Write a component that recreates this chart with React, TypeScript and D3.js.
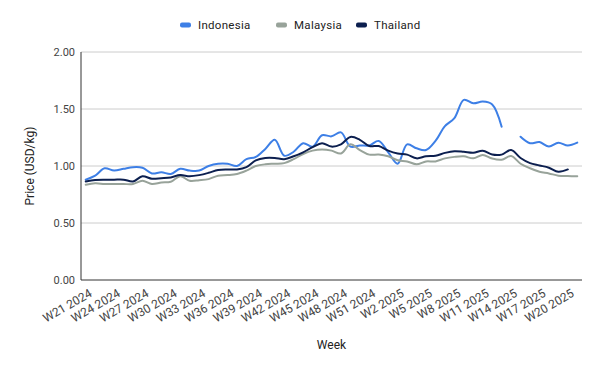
import * as d3 from 'd3';

const weeks = [
  'W21 2024', 'W22 2024', 'W23 2024', 'W24 2024', 'W25 2024', 'W26 2024', 'W27 2024', 'W28 2024',
  'W29 2024', 'W30 2024', 'W31 2024', 'W32 2024', 'W33 2024', 'W34 2024', 'W35 2024', 'W36 2024',
  'W37 2024', 'W38 2024', 'W39 2024', 'W40 2024', 'W41 2024', 'W42 2024', 'W43 2024', 'W44 2024',
  'W45 2024', 'W46 2024', 'W47 2024', 'W48 2024', 'W49 2024', 'W50 2024', 'W51 2024', 'W52 2024',
  'W1 2025', 'W2 2025', 'W3 2025', 'W4 2025', 'W5 2025', 'W6 2025', 'W7 2025', 'W8 2025',
  'W9 2025', 'W10 2025', 'W11 2025', 'W12 2025', 'W13 2025', 'W14 2025', 'W15 2025', 'W16 2025',
  'W17 2025', 'W18 2025', 'W19 2025', 'W20 2025', 'W21 2025',
];

const indonesia: (number | null)[] = [
  0.88, 0.915, 0.98, 0.96, 0.975, 0.99, 0.985, 0.935, 0.945, 0.93,
  0.975, 0.96, 0.96, 1.0, 1.02, 1.02, 1.0, 1.06, 1.08, 1.15,
  1.23, 1.09, 1.125, 1.2, 1.17, 1.27, 1.26, 1.295, 1.17, 1.18,
  1.18, 1.22, 1.12, 1.02, 1.19, 1.155, 1.14, 1.22, 1.35, 1.42,
  1.58, 1.55, 1.565, 1.54, 1.345, null, 1.257, 1.2, 1.21, 1.17,
  1.205, 1.18, 1.205,
];

const malaysia: (number | null)[] = [
  0.835, 0.848, 0.842, 0.842, 0.842, 0.842, 0.87, 0.842, 0.855, 0.862,
  0.91, 0.87, 0.875, 0.885, 0.915, 0.92, 0.93, 0.96, 1.0, 1.015,
  1.02, 1.025, 1.06, 1.105, 1.135, 1.145, 1.135, 1.11, 1.19, 1.14,
  1.1, 1.1, 1.085, 1.05, 1.04, 1.015, 1.04, 1.04, 1.067, 1.08,
  1.085, 1.067, 1.097, 1.065, 1.055, 1.088, 1.02, 0.98, 0.95, 0.935,
  0.915, 0.912, 0.91,
];

const thailand: (number | null)[] = [
  0.865, 0.877, 0.88, 0.88, 0.88, 0.865, 0.91, 0.888, 0.893, 0.9,
  0.92, 0.91, 0.92, 0.94, 0.965, 0.97, 0.97, 0.99, 1.05, 1.07,
  1.07, 1.06, 1.085, 1.12, 1.165, 1.2, 1.17, 1.19, 1.255, 1.23,
  1.175, 1.175, 1.135, 1.11, 1.1, 1.067, 1.085, 1.09, 1.115, 1.13,
  1.125, 1.117, 1.134, 1.1, 1.1, 1.14, 1.07, 1.025, 1.005, 0.985,
  0.95, 0.97, null,
];

const series = [
  { name: 'Indonesia', values: indonesia, color: '#3d7fe6' },
  { name: 'Malaysia', values: malaysia, color: '#98a39a' },
  { name: 'Thailand', values: thailand, color: '#0c1f4f' },
];

const yTicks = [0, 0.5, 1, 1.5, 2];
const xTickLabels = weeks.filter((_, i) => i % 3 === 0);

const W = 600;
const H = 371;
const margin = { top: 52, right: 18, bottom: 91, left: 81 };
const font = 'Roboto, Arial, sans-serif';

export default function App() {
  const x = d3.scalePoint<string>()
    .domain(weeks)
    .range([margin.left, W - margin.right])
    .padding(0.5);
  const y = d3.scaleLinear().domain([0, 2]).range([H - margin.bottom, margin.top]);

  const line = d3.line<number | null>()
    .defined(d => d != null)
    .x((_, i) => x(weeks[i])!)
    .y(d => y(d as number))
    .curve(d3.curveCatmullRom.alpha(0.5));

  const legendX = [180, 276, 356];

  return (
    <svg width={W} height={H} style={{ position: 'absolute', left: 0, top: 0, fontFamily: font }}>
      <rect width={W} height={H} fill="#fff" />

      {/* legend */}
      {series.map((s, i) => (
        <g key={s.name} transform={`translate(${legendX[i]},25)`}>
          <rect x={0} y={-2.5} width={11} height={5} rx={2} fill={s.color} />
          <text x={18} dy="0.35em" fontSize={11.5} fill="#222" letterSpacing={0.3}>{s.name}</text>
        </g>
      ))}

      {/* grid */}
      {yTicks.map(t => (
        <g key={t}>
          {t > 0 && (
            <line x1={margin.left} x2={W - margin.right} y1={y(t)} y2={y(t)} stroke="#cccccc" strokeWidth={1} />
          )}
          <text x={margin.left - 6} y={y(t)} dy="0.35em" textAnchor="end" fontSize={11} fill="#444">
            {t.toFixed(2)}
          </text>
        </g>
      ))}

      {/* series */}
      {series.map(s => (
        <path key={s.name} d={line(s.values) || ''} fill="none" stroke={s.color} strokeWidth={2}
          strokeLinejoin="round" strokeLinecap="round" />
      ))}

      {/* axes */}
      <line x1={margin.left} x2={margin.left} y1={margin.top} y2={y(0)} stroke="#333" strokeWidth={1} />
      <line x1={margin.left} x2={W - margin.right} y1={y(0)} y2={y(0)} stroke="#333" strokeWidth={1} />

      {xTickLabels.map(w => (
        <text key={w} transform={`translate(${x(w)! + 5},${y(0) + 12}) rotate(-30)`}
          textAnchor="end" dy="0.35em" fontSize={12} fill="#444">
          {w}
        </text>
      ))}

      <text x={(margin.left + W - margin.right) / 2} y={345} dy="0.35em" textAnchor="middle" fontSize={12} fill="#222">
        Week
      </text>
      <text transform={`translate(30,${(margin.top + y(0)) / 2}) rotate(-90)`} dy="0.35em" textAnchor="middle"
        fontSize={12} fill="#222">
        Price (USD/kg)
      </text>
    </svg>
  );
}
